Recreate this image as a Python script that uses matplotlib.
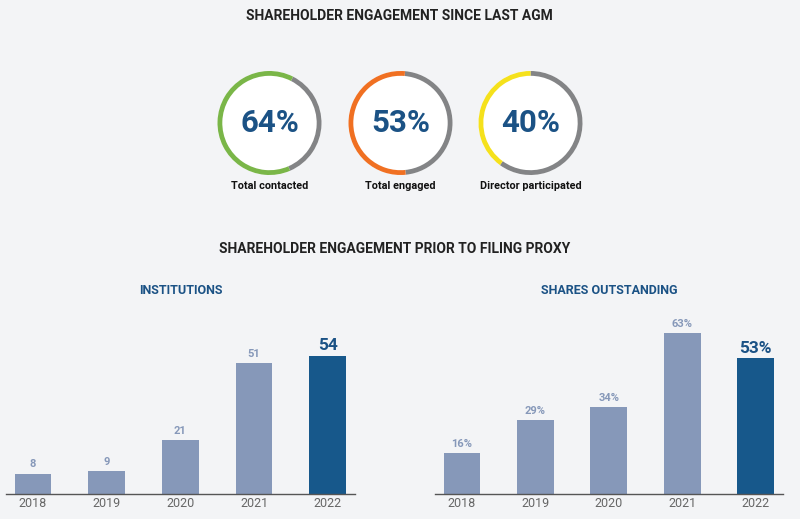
import numpy as np
import matplotlib
matplotlib.use("Agg")
import matplotlib.pyplot as plt
from matplotlib.patches import Wedge, Circle

plt.rcParams['font.family'] = ['Roboto', 'DejaVu Sans']

# donut data
ring_pcts = [64, 53, 40]
ring_labels = ["Total contacted", "Total engaged", "Director participated"]
ring_colors = ["#7ab648", "#f07022", "#f5e11c"]

# bar data
years = ["2018", "2019", "2020", "2021", "2022"]
institutions = [8, 9, 21, 51, 54]
shares_pct = [16, 29, 34, 63, 53]

bg = "#f3f4f6"
light_bar = "#8698b9"
dark_bar = "#17588b"
navy_text = "#1b5285"
ring_gray = "#838486"

fig = plt.figure(figsize=(8.0, 5.19), dpi=100, facecolor=bg)

# overlay in pixel coords for titles and donuts
ov = fig.add_axes([0, 0, 1, 1])
ov.set_xlim(0, 800)
ov.set_ylim(519, 0)
ov.axis("off")
ov.set_zorder(0)

ov.text(399, 16, "SHAREHOLDER ENGAGEMENT SINCE LAST AGM", ha="center", va="center",
        fontsize=10, fontweight="bold", color="#222222")
ov.text(395, 249, "SHAREHOLDER ENGAGEMENT PRIOR TO FILING PROXY", ha="center", va="center",
        fontsize=10, fontweight="bold", color="#222222")

centers = [269.5, 400.5, 530.5]
starts = [27, 5, 0]  # clockwise offset from top where coloured arc begins
cy, r = 123, 52
for cx, pct, lab, col, st in zip(centers, ring_pcts, ring_labels, ring_colors, starts):
    ov.add_patch(Circle((cx, cy), r, facecolor="white", edgecolor="none"))
    # y axis inverted: angles measured clockwise from +x in screen space
    top = -90 + st
    span = pct / 100 * 360
    ov.add_patch(Wedge((cx, cy), r, top, top + 360 - span, width=4.8,
                       facecolor=ring_gray, edgecolor="none"))
    ov.add_patch(Wedge((cx, cy), r, top - span, top, width=4.8,
                       facecolor=col, edgecolor="none"))
    ov.text(cx, cy, f"{pct}%", ha="center", va="center", fontsize=22.5,
            fontweight="bold", color=navy_text)
    ov.text(cx, 186, lab, ha="center", va="center", fontsize=7.8,
            fontweight="bold", color="#111111")


def bar_panel(left_px, right_px, title, title_x, vals, fmt):
    x0, x1 = -0.366, 4.37
    ax = fig.add_axes([left_px / 800, 25 / 519, (right_px - left_px) / 800, 194 / 519])
    ax.set_facecolor("none")
    xs = np.arange(len(vals))
    colors = [light_bar] * (len(vals) - 1) + [dark_bar]
    ax.bar(xs, vals, width=0.5, color=colors, zorder=2)
    ax.set_xlim(x0, x1)
    ax.set_ylim(0, 194 / 2.56)
    for s in ["top", "right", "left"]:
        ax.spines[s].set_visible(False)
    ax.spines["bottom"].set_color("#555555")
    ax.spines["bottom"].set_linewidth(1)
    ax.set_yticks([])
    ax.set_xticks(xs)
    ax.set_xticklabels(years, fontsize=9, color="#666666")
    ax.tick_params(axis="x", length=0, pad=2)
    for i, v in enumerate(vals):
        if i == len(vals) - 1:
            ax.annotate(fmt(v), (i, v), xytext=(0, 2), textcoords="offset points",
                        ha="center", va="bottom", fontsize=12.5, fontweight="bold",
                        color=navy_text)
        else:
            ax.annotate(fmt(v), (i, v), xytext=(0, 3), textcoords="offset points",
                        ha="center", va="bottom", fontsize=8, fontweight="bold",
                        color=light_bar)
    ov.text(title_x, 290, title, ha="center", va="center", fontsize=9,
            fontweight="bold", color=navy_text)
    return ax


bar_panel(6, 355, "INSTITUTIONS", 181, institutions, lambda v: f"{v}")
bar_panel(435, 783, "SHARES OUTSTANDING", 609, shares_pct, lambda v: f"{v}%")

fig.savefig("out.png", dpi=100, facecolor=bg)
